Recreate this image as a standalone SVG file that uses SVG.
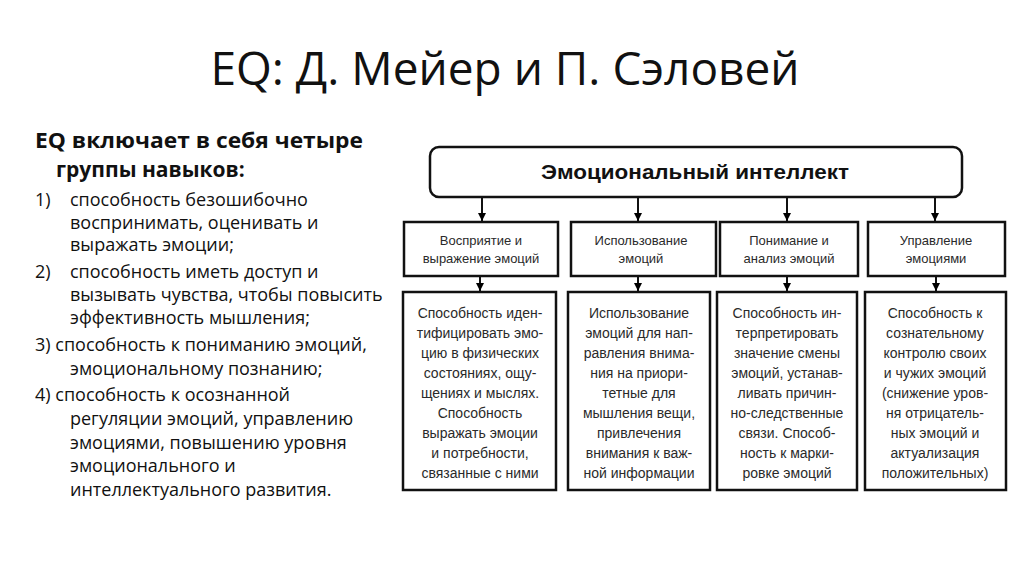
<svg xmlns="http://www.w3.org/2000/svg" width="1024" height="576" viewBox="0 0 1024 576">
<defs>
<marker id="ah" viewBox="0 0 10 10" refX="10" refY="5" markerWidth="4" markerHeight="4" orient="auto" markerUnits="strokeWidth">
<path d="M0,0 L10,5 L0,10 z" fill="#000"/>
</marker>
<style>
.title{font-family:"Open Sans",sans-serif;font-size:46px;fill:#111}
.hd{font-family:"Open Sans",sans-serif;font-size:21px;font-weight:bold;fill:#111}
.it{font-family:"Open Sans",sans-serif;font-size:18px;fill:#111}
.box{fill:#fff;stroke:#111;stroke-width:2.5}
.top{font-family:"Liberation Sans",Arial,sans-serif;font-size:20px;font-weight:bold;fill:#111}
.bt{font-family:"Liberation Sans",Arial,sans-serif;font-size:14px;fill:#2a2a2a;text-anchor:middle}
.bs{font-family:"Liberation Sans",Arial,sans-serif;font-size:13px;fill:#2a2a2a;text-anchor:middle}
.conn{stroke:#111;stroke-width:2;fill:none;marker-end:url(#ah)}
</style>
</defs>
<rect width="1024" height="576" fill="#fff"/>
<text class="title" x="505" y="85" text-anchor="middle">EQ: Д. Мейер и П. Сэловей</text>
<g id="left-text">
<text class="hd" x="35" y="148" textLength="328" lengthAdjust="spacingAndGlyphs">EQ включает в себя четыре</text>
<text class="hd" x="56" y="177">группы навыков:</text>
<text class="it" x="35" y="206">1)</text>
<text class="it" x="70" y="206">способность безошибочно</text>
<text class="it" x="70" y="229">воспринимать, оценивать и</text>
<text class="it" x="70" y="251">выражать эмоции;</text>
<text class="it" x="35" y="278">2)</text>
<text class="it" x="70" y="278">способность иметь доступ и</text>
<text class="it" x="70" y="301">вызывать чувства, чтобы повысить</text>
<text class="it" x="70" y="324">эффективность мышления;</text>
<text class="it" x="35" y="351">3) способность к пониманию эмоций,</text>
<text class="it" x="70" y="375">эмоциональному познанию;</text>
<text class="it" x="35" y="401">4) способность к осознанной</text>
<text class="it" x="70" y="425">регуляции эмоций, управлению</text>
<text class="it" x="70" y="449">эмоциями, повышению уровня</text>
<text class="it" x="70" y="472">эмоционального и</text>
<text class="it" x="70" y="496">интеллектуального развития.</text>
</g>
<g id="connectors">
<line class="conn" x1="482" y1="197" x2="482" y2="221"/>
<line class="conn" x1="638" y1="197" x2="638" y2="221"/>
<line class="conn" x1="787" y1="197" x2="787" y2="221"/>
<line class="conn" x1="935" y1="197" x2="935" y2="221"/>
<line class="conn" x1="480" y1="276" x2="480" y2="291"/>
<line class="conn" x1="638" y1="276" x2="638" y2="291"/>
<line class="conn" x1="787" y1="276" x2="787" y2="291"/>
<line class="conn" x1="936" y1="276" x2="936" y2="291"/>
</g>
<g id="node-top">
<rect class="box" x="430" y="147" width="532" height="50" rx="9"/>
<text class="top" x="695" y="179" text-anchor="middle" textLength="308" lengthAdjust="spacingAndGlyphs">Эмоциональный интеллект</text>
</g>
<g id="node-a">
<rect class="box" x="404" y="222" width="154" height="54"/>
<text class="bs" x="481" y="245">Восприятие и</text>
<text class="bs" x="481" y="263">выражение эмоций</text>
</g>
<g id="node-b">
<rect class="box" x="571" y="222" width="145" height="54"/>
<text class="bs" x="641" y="245">Использование</text>
<text class="bs" x="641" y="263">эмоций</text>
</g>
<g id="node-c">
<rect class="box" x="720" y="222" width="138" height="54"/>
<text class="bs" x="789" y="245">Понимание и</text>
<text class="bs" x="789" y="263">анализ эмоций</text>
</g>
<g id="node-d">
<rect class="box" x="868" y="222" width="137" height="54"/>
<text class="bs" x="936" y="245">Управление</text>
<text class="bs" x="936" y="263">эмоциями</text>
</g>
<g id="node-a2">
<rect class="box" x="403" y="292" width="153" height="198"/>
<text class="bt" x="480" y="318">Способность иден-</text>
<text class="bt" x="480" y="338">тифицировать эмо-</text>
<text class="bt" x="480" y="358">цию в физических</text>
<text class="bt" x="480" y="378">состояниях, ощу-</text>
<text class="bt" x="480" y="398">щениях и мыслях.</text>
<text class="bt" x="480" y="418">Способность</text>
<text class="bt" x="480" y="438">выражать эмоции</text>
<text class="bt" x="480" y="458">и потребности,</text>
<text class="bt" x="480" y="478">связанные с ними</text>
</g>
<g id="node-b2">
<rect class="box" x="568" y="292" width="142" height="198"/>
<text class="bt" x="639" y="318">Использование</text>
<text class="bt" x="639" y="338">эмоций для нап-</text>
<text class="bt" x="639" y="358">равления внима-</text>
<text class="bt" x="639" y="378">ния на приори-</text>
<text class="bt" x="639" y="398">тетные для</text>
<text class="bt" x="639" y="418">мышления вещи,</text>
<text class="bt" x="639" y="438">привлечения</text>
<text class="bt" x="639" y="458">внимания к важ-</text>
<text class="bt" x="639" y="478">ной информации</text>
</g>
<g id="node-c2">
<rect class="box" x="717" y="292" width="140" height="198"/>
<text class="bt" x="787" y="318">Способность ин-</text>
<text class="bt" x="787" y="338">терпретировать</text>
<text class="bt" x="787" y="358">значение смены</text>
<text class="bt" x="787" y="378">эмоций, устанав-</text>
<text class="bt" x="787" y="398">ливать причин-</text>
<text class="bt" x="787" y="418">но-следственные</text>
<text class="bt" x="787" y="438">связи. Способ-</text>
<text class="bt" x="787" y="458">ность к марки-</text>
<text class="bt" x="787" y="478">ровке эмоций</text>
</g>
<g id="node-d2">
<rect class="box" x="865" y="292" width="141" height="198"/>
<text class="bt" x="935" y="318">Способность к</text>
<text class="bt" x="935" y="338">сознательному</text>
<text class="bt" x="935" y="358">контролю своих</text>
<text class="bt" x="935" y="378">и чужих эмоций</text>
<text class="bt" x="935" y="398">(снижение уров-</text>
<text class="bt" x="935" y="418">ня отрицатель-</text>
<text class="bt" x="935" y="438">ных эмоций и</text>
<text class="bt" x="935" y="458">актуализация</text>
<text class="bt" x="935" y="478">положительных)</text>
</g>
</svg>
